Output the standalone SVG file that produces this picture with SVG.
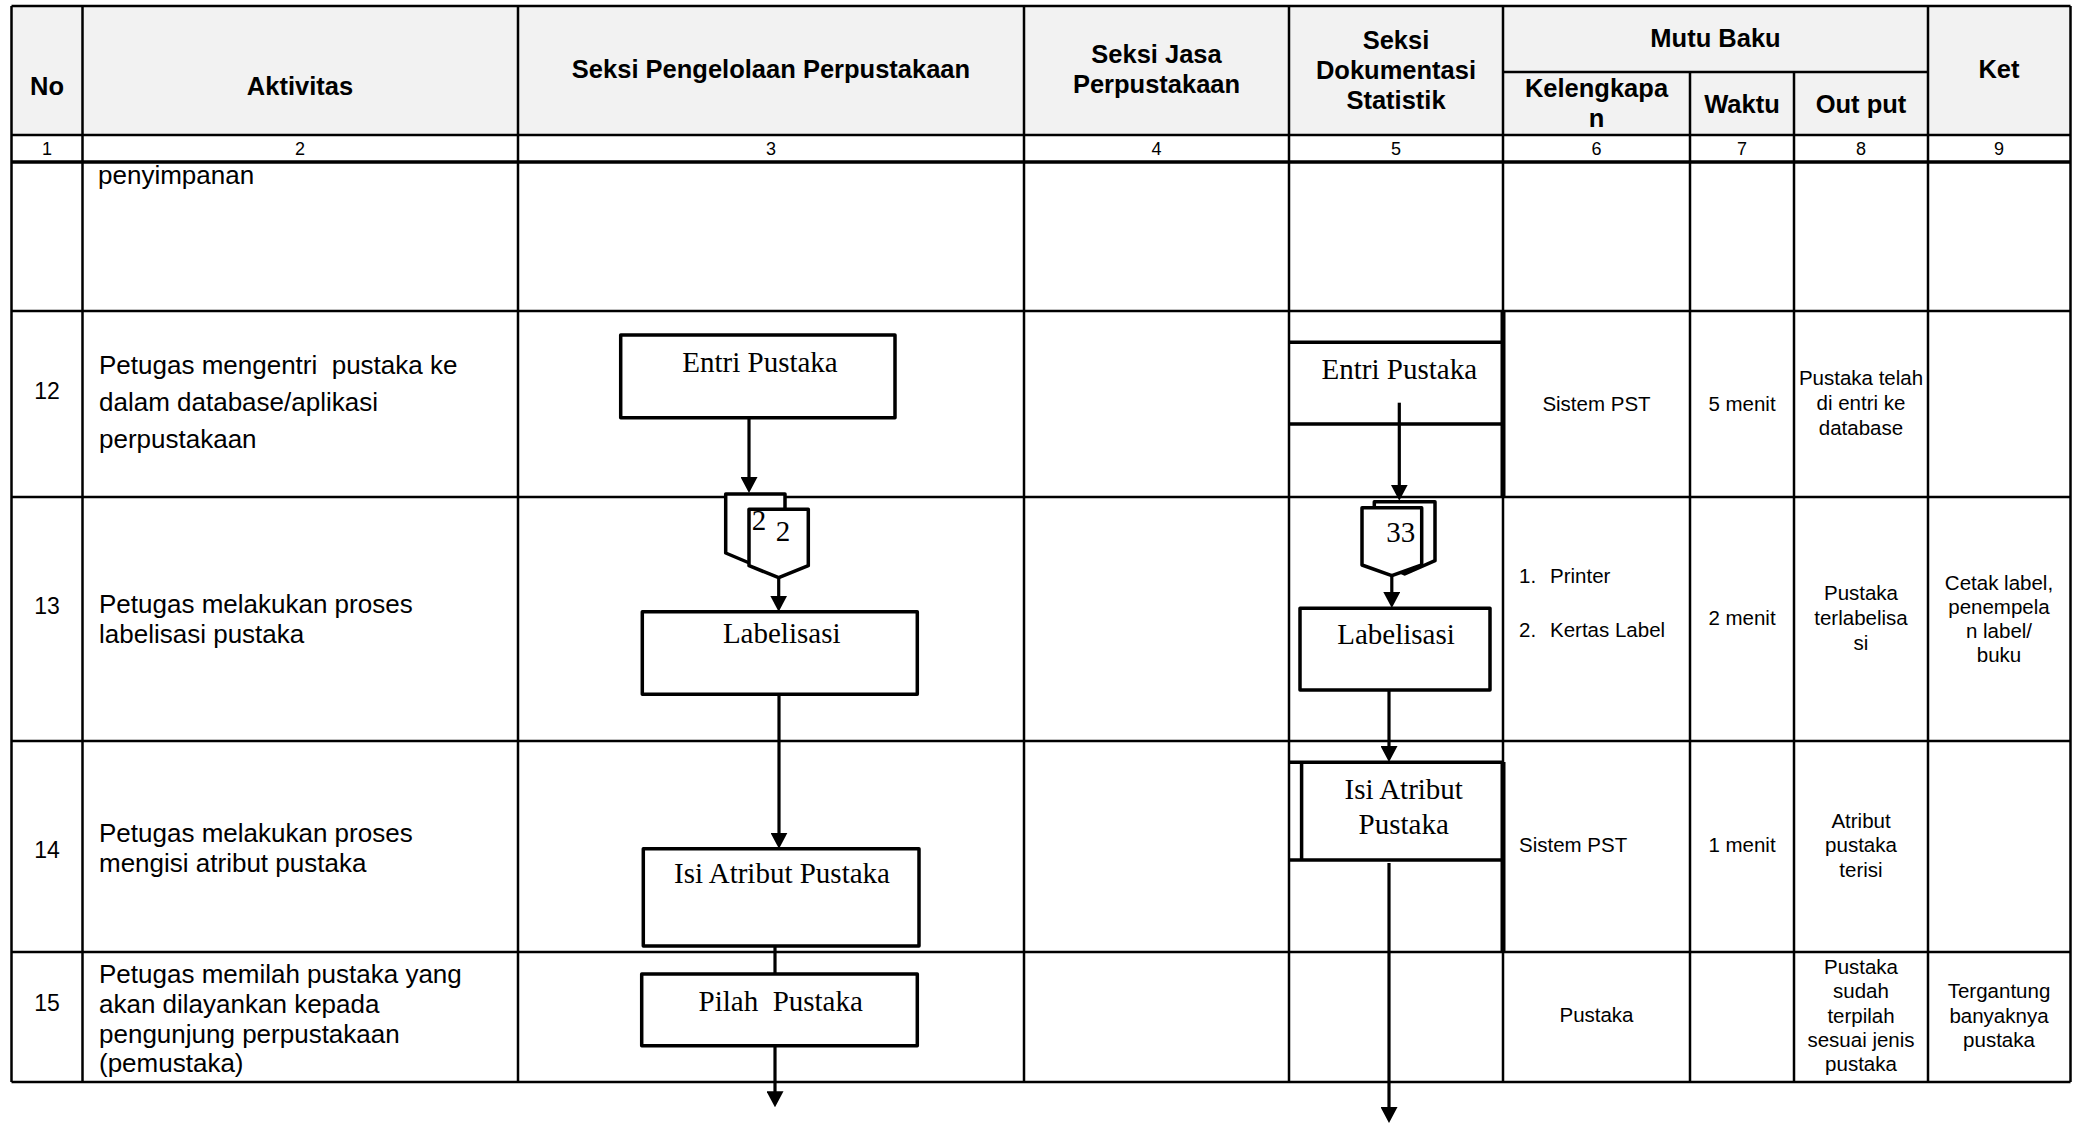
<svg xmlns="http://www.w3.org/2000/svg" width="2084" height="1124" viewBox="0 0 2084 1124">
<defs>
<style>
.grid{stroke:#000;stroke-width:2.5;fill:none}
.hd{font-family:"Liberation Sans",Arial,sans-serif;font-weight:bold;font-size:25.5px;text-anchor:middle;fill:#000}
.num{font-family:"Liberation Sans",Arial,sans-serif;font-size:18px;text-anchor:middle;fill:#000}
.act{font-family:"Liberation Sans",Arial,sans-serif;font-size:26px;fill:#000}
.no{font-family:"Liberation Sans",Arial,sans-serif;font-size:23px;text-anchor:middle;fill:#000}
.sm{font-family:"Liberation Sans",Arial,sans-serif;font-size:20.5px;text-anchor:middle;fill:#000}
.sml{font-family:"Liberation Sans",Arial,sans-serif;font-size:20.5px;fill:#000}
.box{fill:#fff;stroke:#000;stroke-width:3.5;stroke-linejoin:round}
.bl{stroke:#000;stroke-width:3.5;fill:none}
.thick{stroke:#000;stroke-width:5;fill:none}
.lbl{font-family:"Liberation Serif","Times New Roman",serif;font-size:29px;text-anchor:middle;fill:#000}
.edge{stroke:#000;stroke-width:3.2;fill:none}
</style>
<marker id="ah" markerUnits="userSpaceOnUse" markerWidth="16" markerHeight="17" viewBox="0 0 16 17" refX="10" refY="8.5" orient="auto"><path d="M0,0L16,8.5L0,17z" fill="#000"/></marker>
</defs>
<rect x="0" y="0" width="2084" height="1124" fill="#fff"/>
<g id="table">
<rect x="11.5" y="6" width="2059" height="129" fill="#f2f2f2"/>
<path class="grid" d="M11.5,6H2070.5M1503,72H1928M11.5,135H2070.5M11.5,311H2070.5M11.5,497H2070.5M11.5,741H2070.5M11.5,952H2070.5M11.5,1082H2070.5"/>
<path d="M11.5,162H2070.5" stroke="#000" stroke-width="3.5"/>
<path class="grid" d="M11.5,6V1082M82.5,6V1082M518,6V1082M1024,6V1082M1289,6V1082M1503,6V1082M1928,6V1082M2070.5,6V1082M1690,72V1082M1794,72V1082"/>
<text class="hd" x="47" y="95">No</text>
<text class="hd" x="300" y="95">Aktivitas</text>
<text class="hd" x="771" y="78">Seksi Pengelolaan Perpustakaan</text>
<text class="hd" x="1156.5" y="63">Seksi Jasa</text>
<text class="hd" x="1156.5" y="93">Perpustakaan</text>
<text class="hd" x="1396" y="49">Seksi</text>
<text class="hd" x="1396" y="79">Dokumentasi</text>
<text class="hd" x="1396" y="109">Statistik</text>
<text class="hd" x="1715.5" y="47">Mutu Baku</text>
<text class="hd" x="1596.5" y="97">Kelengkapa</text>
<text class="hd" x="1596.5" y="127">n</text>
<text class="hd" x="1742" y="113">Waktu</text>
<text class="hd" x="1861" y="113">Out put</text>
<text class="hd" x="1999" y="78">Ket</text>
<text class="num" x="47" y="155">1</text>
<text class="num" x="300" y="155">2</text>
<text class="num" x="771" y="155">3</text>
<text class="num" x="1156.5" y="155">4</text>
<text class="num" x="1396" y="155">5</text>
<text class="num" x="1596.5" y="155">6</text>
<text class="num" x="1742" y="155">7</text>
<text class="num" x="1861" y="155">8</text>
<text class="num" x="1999" y="155">9</text>
<text class="act" x="98" y="184">penyimpanan</text>
<text class="no" x="47" y="399">12</text>
<text class="act" x="99" y="374" style="white-space:pre">Petugas mengentri  pustaka ke</text>
<text class="act" x="99" y="411">dalam database/aplikasi</text>
<text class="act" x="99" y="448">perpustakaan</text>
<text class="no" x="47" y="614">13</text>
<text class="act" x="99" y="613">Petugas melakukan proses</text>
<text class="act" x="99" y="643">labelisasi pustaka</text>
<text class="no" x="47" y="858">14</text>
<text class="act" x="99" y="842">Petugas melakukan proses</text>
<text class="act" x="99" y="872">mengisi atribut pustaka</text>
<text class="no" x="47" y="1011">15</text>
<text class="act" x="99" y="983">Petugas memilah pustaka yang</text>
<text class="act" x="99" y="1013">akan dilayankan kepada</text>
<text class="act" x="99" y="1043">pengunjung perpustakaan</text>
<text class="act" x="99" y="1072">(pemustaka)</text>
<text class="sm" x="1596.5" y="411">Sistem PST</text>
<text class="sm" x="1742" y="411">5 menit</text>
<text class="sm" x="1861" y="385">Pustaka telah</text>
<text class="sm" x="1861" y="410">di entri ke</text>
<text class="sm" x="1861" y="435">database</text>
<text class="sml" x="1519" y="583">1.</text>
<text class="sml" x="1550" y="583">Printer</text>
<text class="sml" x="1519" y="637">2.</text>
<text class="sml" x="1550" y="637">Kertas Label</text>
<text class="sm" x="1742" y="625">2 menit</text>
<text class="sm" x="1861" y="600">Pustaka</text>
<text class="sm" x="1861" y="625">terlabelisa</text>
<text class="sm" x="1861" y="650">si</text>
<text class="sm" x="1999" y="590">Cetak label,</text>
<text class="sm" x="1999" y="614">penempela</text>
<text class="sm" x="1999" y="638">n label/</text>
<text class="sm" x="1999" y="662">buku</text>
<text class="sml" x="1519" y="852">Sistem PST</text>
<text class="sm" x="1742" y="852">1 menit</text>
<text class="sm" x="1861" y="828">Atribut</text>
<text class="sm" x="1861" y="852">pustaka</text>
<text class="sm" x="1861" y="877">terisi</text>
<text class="sm" x="1596.5" y="1022">Pustaka</text>
<text class="sm" x="1861" y="974">Pustaka</text>
<text class="sm" x="1861" y="998">sudah</text>
<text class="sm" x="1861" y="1023">terpilah</text>
<text class="sm" x="1861" y="1047">sesuai jenis</text>
<text class="sm" x="1861" y="1071">pustaka</text>
<text class="sm" x="1999" y="998">Tergantung</text>
<text class="sm" x="1999" y="1023">banyaknya</text>
<text class="sm" x="1999" y="1047">pustaka</text>
</g>
<g id="connectors">
<path class="edge" d="M749,395V487" marker-end="url(#ah)"/>
<path class="edge" d="M778.7,577.7V605.7" marker-end="url(#ah)"/>
<path class="edge" d="M779,694.3V842.7" marker-end="url(#ah)"/>
<path class="edge" d="M775,946V974"/>
<path class="edge" d="M775,1045.7V1101.3" marker-end="url(#ah)"/>
<path class="edge" d="M1399.3,402.7V494.7" marker-end="url(#ah)"/>
<path class="edge" d="M1391.8,575.7V602" marker-end="url(#ah)"/>
<path class="edge" d="M1389,690V756" marker-end="url(#ah)"/>
<path class="edge" d="M1389,863V1117" marker-end="url(#ah)"/>
</g>
<g id="entri-pustaka-1">
<rect class="box" x="620.7" y="335" width="274.3" height="82.7"/>
<text class="lbl" x="760" y="372">Entri Pustaka</text>
</g>
<g id="connector-2">
<polygon class="box" points="725.7,494 785,494 785,553 755.3,565.5 725.7,553"/>
<polygon class="box" points="749,509.3 808.3,509.3 808.3,565.7 778.7,577.7 749,565.7"/>
<text class="lbl" x="759" y="530">2</text>
<text class="lbl" x="783" y="541">2</text>
</g>
<g id="labelisasi-1">
<rect class="box" x="642.3" y="611.7" width="275" height="82.6"/>
<text class="lbl" x="781.7" y="643.3">Labelisasi</text>
</g>
<g id="isi-atribut-1">
<rect class="box" x="643.3" y="848.7" width="275.7" height="97.3"/>
<text class="lbl" x="782" y="883">Isi Atribut Pustaka</text>
</g>
<g id="pilah-pustaka">
<rect class="box" x="641.7" y="974" width="275.6" height="71.7"/>
<text class="lbl" x="780.7" y="1011" style="white-space:pre">Pilah  Pustaka</text>
</g>
<g id="entri-pustaka-2">
<path class="bl" d="M1289,342.3H1503M1289,424H1503"/>
<path class="thick" d="M1503,311V497"/>
<text class="lbl" x="1399.3" y="379.3">Entri Pustaka</text>
</g>
<g id="connector-3">
<polygon class="box" points="1374.3,501.7 1435,501.7 1435,560.7 1404.7,574 1374.3,560.7"/>
<polygon class="box" points="1362,507.7 1421.7,507.7 1421.7,565 1391.8,575.7 1362,565"/>
<text class="lbl" x="1400.7" y="541.7">33</text>
</g>
<g id="labelisasi-2">
<rect class="box" x="1300" y="608.3" width="190" height="81.7"/>
<text class="lbl" x="1396" y="644.3">Labelisasi</text>
</g>
<g id="isi-atribut-2">
<path class="bl" d="M1289,762.3H1503M1289,860H1503M1301.6,762.3V860"/>
<path class="thick" d="M1503,762V952"/>
<text class="lbl" x="1403.7" y="799">Isi Atribut</text>
<text class="lbl" x="1403.7" y="834">Pustaka</text>
</g>
</svg>
